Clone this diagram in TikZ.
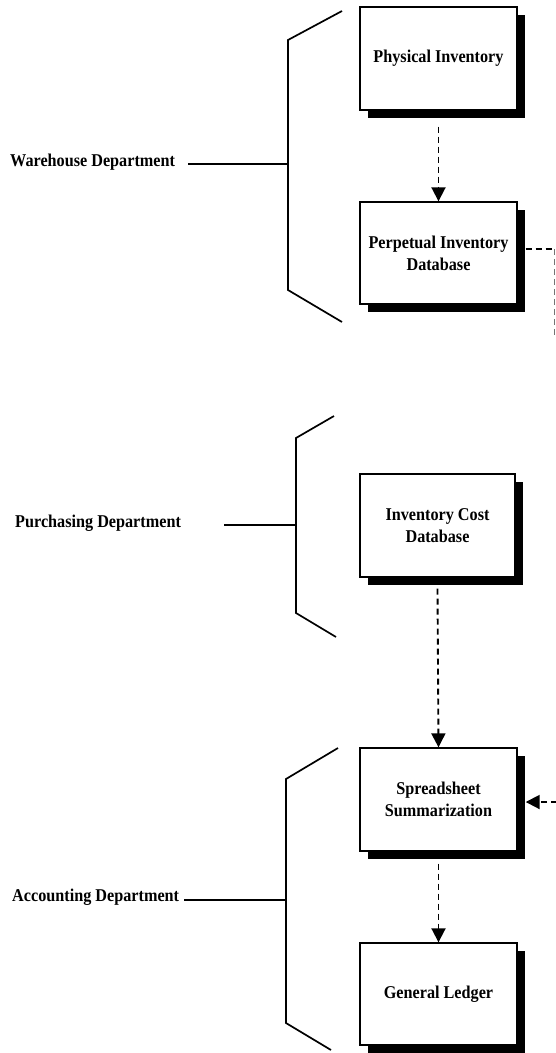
\documentclass[tikz,border=0pt]{standalone}
\usepackage{fontspec}
\setmainfont[FakeStretch=0.9]{Liberation Serif}
\usetikzlibrary{arrows.meta,shadows,calc}
\begin{document}
\begin{tikzpicture}[x=1pt,y=-1pt,
  every node/.style={font=\bfseries\fontsize{18}{22}\selectfont},
  procbox/.style={draw=black,line width=1.4pt,fill=white,align=center,
    minimum width=157pt,minimum height=103pt,inner sep=0pt,
    drop shadow={shadow xshift=8pt,shadow yshift=-8pt,fill=black,opacity=1}},
  dept/.style={anchor=base west,inner sep=0pt},
  bracket/.style={line width=1.7pt,line join=miter},
  tick/.style={line width=1.4pt},
  flow/.style={line width=1.9pt,dash pattern=on 6pt off 4pt,
    -{Triangle[width=14pt,length=14pt]}},
  link/.style={line width=1.9pt,dash pattern=on 6pt off 4pt}
]
\useasboundingbox (0,0) rectangle (556,1053);

% process boxes
\node[procbox] (phys) at (438.5,58.5) {Physical Inventory};
\node[procbox,minimum height=102pt] (perp) at (438.5,253) {Perpetual Inventory\\Database};
\node[procbox,minimum width=155pt] (cost) at (437.5,525.5) {Inventory Cost\\Database};
\node[procbox] (sprd) at (438.5,799.5) {Spreadsheet\\Summarization};
\node[procbox,minimum height=102pt] (gl) at (438.5,994) {General Ledger};

% department labels and brackets
\node[dept] (wh) at (10,166) {Warehouse Department};
\coordinate (whm) at (288,164);
\draw[bracket] (342,11) -- (288,40) -- (288,290) -- (342,322);
\draw[tick] ($(wh.base east)+(13,-2)$) -- (whm);

\node[dept] (pu) at (15,527) {Purchasing Department};
\coordinate (pum) at (296,525);
\draw[bracket] (334,416) -- (296,438) -- (296,613) -- (336,637);
\draw[tick] ($(pu.base east)+(43,-2)$) -- (pum);

\node[dept] (ac) at (12,901) {Accounting Department};
\coordinate (acm) at (286,900);
\draw[bracket] (338,748) -- (286,779) -- (286,1023) -- (331,1050);
\draw[tick] ($(ac.base east)+(5,-1)$) -- (acm);

% flows
\draw[flow] ($(phys.south)+(0,16)$) -- (perp.north);
\draw[flow] ($(cost.south)+(0,11)$) -- (sprd.north);
\draw[flow] ($(sprd.south)+(0,12)$) -- (gl.north);

% link from the perpetual inventory database off to the right
\coordinate (pturn) at (554,249);
\coordinate (pend) at (554,337);
\draw[link] ($(perp.east)+(8,-4)$) -- (pturn);
\draw[line width=0.9pt,black!55,dash pattern=on 6pt off 4pt] (pturn) -- (pend);

% link arriving at the spreadsheet summarization from the right
\coordinate (sin) at (557,802);
\draw[flow] (sin) -- ($(sprd.east)+(8,2.5)$);
\end{tikzpicture}
\end{document}
